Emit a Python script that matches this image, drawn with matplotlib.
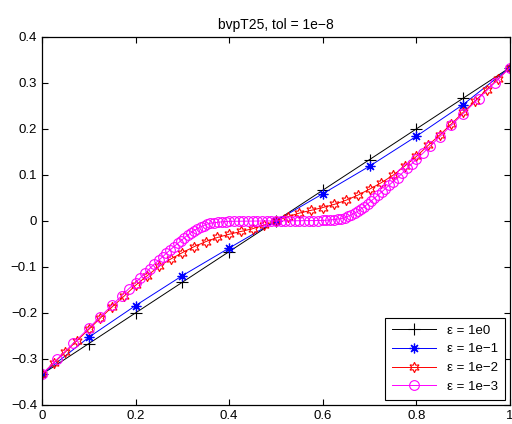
import numpy as np
import matplotlib
matplotlib.use('Agg')
import matplotlib.pyplot as plt

# ---------- Data --------------------------------------------------------------------------------------------------

x_e0 = [0.0, 0.1, 0.2, 0.3, 0.4, 0.5, 0.6, 0.7, 0.8, 0.9, 1.0]
y_e0 = [-0.3333, -0.2667, -0.2, -0.1333, -0.0667, 0.0, 0.0667, 0.1333, 0.2, 0.2667, 0.3333]

x_e1 = [0.0, 0.1, 0.2, 0.3, 0.4, 0.5, 0.6, 0.7, 0.8, 0.9, 1.0]
y_e1 = [-0.3333, -0.253, -0.184, -0.119, -0.059, 0.0, 0.059, 0.119, 0.184, 0.253, 0.3333]

x_e2 = [0.0, 0.025, 0.05, 0.075, 0.1, 0.125, 0.15, 0.175, 0.2, 0.225,
        0.25, 0.275, 0.3, 0.325, 0.35, 0.375, 0.4, 0.425, 0.45, 0.475,
        0.5, 0.525, 0.55, 0.575, 0.6, 0.625, 0.65, 0.675, 0.7, 0.725,
        0.75, 0.775, 0.8, 0.825, 0.85, 0.875, 0.9, 0.925, 0.95, 0.975, 1.0]
y_e2 = [-0.3333, -0.309, -0.285, -0.260, -0.236, -0.211, -0.187, -0.164, -0.140, -0.119,
        -0.099, -0.083, -0.069, -0.056, -0.045, -0.036, -0.029, -0.023, -0.017, -0.009,
        0.0, 0.009, 0.017, 0.023, 0.029, 0.036, 0.045, 0.056, 0.069, 0.083,
        0.099, 0.119, 0.140, 0.164, 0.187, 0.211, 0.236, 0.260, 0.285, 0.309, 0.3333]

x_e3 = [0.0, 0.033, 0.067, 0.1, 0.125, 0.15, 0.17, 0.185, 0.2, 0.21,
        0.22, 0.23, 0.24, 0.25, 0.258, 0.266, 0.274, 0.282, 0.29, 0.297,
        0.304, 0.311, 0.318, 0.325, 0.332, 0.339, 0.346, 0.353, 0.36, 0.368,
        0.376, 0.385, 0.393, 0.40, 0.41, 0.42, 0.43, 0.44, 0.45, 0.46,
        0.47, 0.48, 0.49, 0.5,
        0.51, 0.52, 0.53, 0.54, 0.55, 0.56, 0.57, 0.58, 0.59, 0.60,
        0.607, 0.615, 0.624, 0.632, 0.64, 0.647, 0.654, 0.661, 0.668, 0.675,
        0.682, 0.689, 0.696, 0.703, 0.71, 0.718, 0.726, 0.734, 0.742, 0.75,
        0.76, 0.77, 0.78, 0.79, 0.80, 0.815, 0.83, 0.85, 0.875, 0.9,
        0.933, 0.967, 1.0]
y_e3 = [-0.3333, -0.300, -0.266, -0.233, -0.208, -0.183, -0.163, -0.148, -0.134, -0.124,
        -0.114, -0.104, -0.094, -0.085, -0.078, -0.070, -0.063, -0.056, -0.049, -0.043,
        -0.037, -0.031, -0.026, -0.021, -0.017, -0.013, -0.010, -0.007, -0.005, -0.004,
        -0.003, -0.002, -0.0015, -0.001, -0.0008, -0.0007, -0.0006, -0.0005, -0.0004, -0.0003,
        -0.0002, -0.0001, -0.00005, 0.0,
        0.00005, 0.0001, 0.0002, 0.0003, 0.0004, 0.0005, 0.0006, 0.0007, 0.0008, 0.001,
        0.0015, 0.002, 0.003, 0.004, 0.005, 0.007, 0.010, 0.013, 0.017, 0.021,
        0.026, 0.031, 0.037, 0.043, 0.049, 0.056, 0.063, 0.070, 0.078, 0.085,
        0.094, 0.104, 0.114, 0.124, 0.134, 0.148, 0.163, 0.183, 0.208, 0.233,
        0.266, 0.300, 0.3333]

labels = ['ε = 1e0', 'ε = 1e\u22121', 'ε = 1e\u22122', 'ε = 1e\u22123']
x_ticks = [0, 0.2, 0.4, 0.6, 0.8, 1]
x_tick_labels = ['0', '0.2', '0.4', '0.6', '0.8', '1']
y_ticks = [-0.4, -0.3, -0.2, -0.1, 0, 0.1, 0.2, 0.3, 0.4]
y_tick_labels = ['\u22120.4', '\u22120.3', '\u22120.2', '\u22120.1', '0', '0.1', '0.2', '0.3', '0.4']

# ---------- Figure ------------------------------------------------------------------------------------------------

plt.rcParams['font.family'] = ['Liberation Sans', 'DejaVu Sans']
fig = plt.figure(figsize=(5.12, 4.24), dpi=100)
ax = fig.add_axes([0.082, 0.045, 0.914, 0.868])

ax.plot(x_e0, y_e0, color='k', lw=0.7, marker='+', ms=8, mew=0.8, label=labels[0])
ax.plot(x_e1, y_e1, color='#0000ff', lw=0.7, marker=(8, 2, 0), ms=7, mew=0.9, label=labels[1])
ax.plot(x_e2, y_e2, color='#ff0000', lw=0.7, marker=(6, 1, 0), ms=7.5, mew=0.8, mfc='none',
        label=labels[2])
ax.plot(x_e3, y_e3, color='#ff00ff', lw=0.7, marker='o', ms=7, mew=0.8, mfc='none', label=labels[3])

ax.set_xlim(0, 1)
ax.set_ylim(-0.4, 0.4)
ax.set_xticks(x_ticks)
ax.set_xticklabels(x_tick_labels)
ax.set_yticks(y_ticks)
ax.set_yticklabels(y_tick_labels)
ax.tick_params(direction='in', top=True, right=True, labelsize=9.5, length=4, width=0.8)
for s in ax.spines.values():
    s.set_linewidth(0.9)

ax.set_title('bvpT25, tol = 1e\u22128', fontsize=10, pad=6)

leg = ax.legend(loc='lower right', fontsize=9.5, fancybox=False, framealpha=1,
                edgecolor='k', borderaxespad=0.4, handlelength=3.4, labelspacing=0.5,
                borderpad=0.5)
leg.get_frame().set_linewidth(0.8)

fig.savefig('out.png', dpi=100)
